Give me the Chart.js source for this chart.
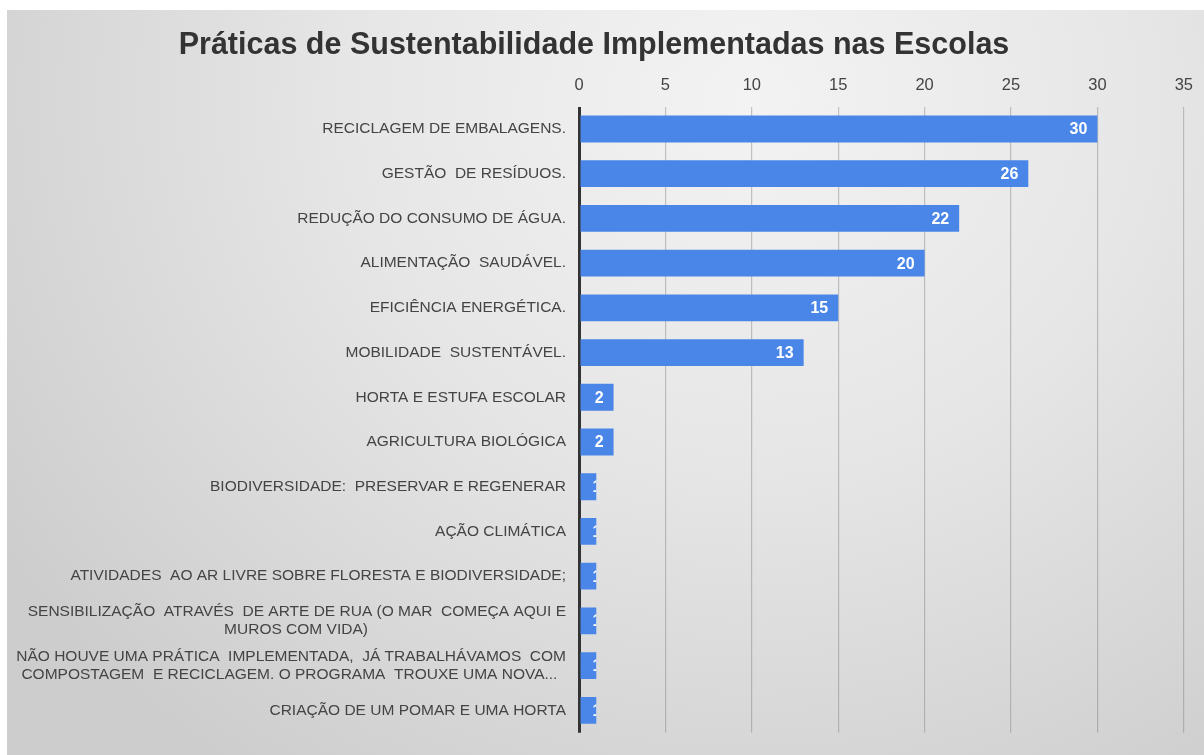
<!DOCTYPE html>
<html>
<head>
<meta charset="utf-8">
<script src="https://cdn.jsdelivr.net/npm/chart.js@4/dist/chart.umd.min.js"></script>
<style>
  html, body { margin: 0; padding: 0; background: #fff; }
  #wrap { position: relative; width: 1204px; height: 755px; }
  #panel {
    position: absolute; left: 7px; top: 10px; right: 0; bottom: 0;
    background: radial-gradient(ellipse 75% 110% at 62% 12%, #f3f3f3 0%, #e6e6e6 45%, #cdcdcd 100%);
  }
  canvas { position: absolute; left: 0; top: 0; }
</style>
</head>
<body>
<div id="wrap">
  <div id="panel"></div>
  <canvas id="chart" width="1204" height="755"></canvas>
</div>
<script>
// Chart data
const chartTitle = 'Práticas de Sustentabilidade Implementadas nas Escolas';
const practices = [
    ['RECICLAGEM DE EMBALAGENS.'],
    ['GESTÃO  DE RESÍDUOS.'],
    ['REDUÇÃO DO CONSUMO DE ÁGUA.'],
    ['ALIMENTAÇÃO  SAUDÁVEL.'],
    ['EFICIÊNCIA ENERGÉTICA.'],
    ['MOBILIDADE  SUSTENTÁVEL.'],
    ['HORTA E ESTUFA ESCOLAR'],
    ['AGRICULTURA BIOLÓGICA'],
    ['BIODIVERSIDADE:  PRESERVAR E REGENERAR'],
    ['AÇÃO CLIMÁTICA'],
    ['ATIVIDADES  AO AR LIVRE SOBRE FLORESTA E BIODIVERSIDADE;'],
    ['SENSIBILIZAÇÃO  ATRAVÉS  DE ARTE DE RUA (O MAR  COMEÇA AQUI E', 'MUROS COM VIDA)'],
    ['NÃO HOUVE UMA PRÁTICA  IMPLEMENTADA,  JÁ TRABALHÁVAMOS  COM', 'COMPOSTAGEM  E RECICLAGEM. O PROGRAMA  TROUXE UMA NOVA...'],
    ['CRIAÇÃO DE UM POMAR E UMA HORTA']
];
const schoolCounts = [30, 26, 22, 20, 15, 13, 2, 2, 1, 1, 1, 1, 1, 1];
const axisMax = 35;
const axisStep = 5;

const labelFont = "'Liberation Sans', Arial, sans-serif";
const labelSize = 15.5;
const barColor = '#4a86e8';

// Used to center the second line of two-line labels under the first
const measureCtx = document.createElement('canvas').getContext('2d');
measureCtx.font = labelSize + 'px ' + labelFont;

function centeredLines(lines) {
    if (lines.length < 2) return lines[0];
    const w0 = measureCtx.measureText(lines[0]).width;
    const out = [lines[0]];
    const spaceW = measureCtx.measureText(' ').width;
    for (let i = 1; i < lines.length; i++) {
        const w = measureCtx.measureText(lines[i]).width;
        const pad = Math.max(0, Math.round((w0 - w) / 2 / spaceW));
        out.push(lines[i] + ' '.repeat(pad));
    }
    return out;
}

// Value labels inside the bar end, clipped to the bar
const barValueLabels = {
    id: 'barValueLabels',
    afterDatasetsDraw(chart) {
        const ctx = chart.ctx;
        const meta = chart.getDatasetMeta(0);
        ctx.save();
        ctx.font = 'bold 16px ' + labelFont;
        ctx.fillStyle = '#ffffff';
        ctx.textAlign = 'right';
        ctx.textBaseline = 'middle';
        meta.data.forEach(function(bar, i) {
            const text = String(schoolCounts[i]);
            const tw = ctx.measureText(text).width;
            const left = bar.base;
            const right = bar.x;
            const half = bar.height / 2;
            ctx.save();
            ctx.beginPath();
            ctx.rect(left, bar.y - half, right - left, bar.height);
            ctx.clip();
            const tx = Math.max(right - 10, left + 12 + tw);
            ctx.fillText(text, tx, bar.y + 1);
            ctx.restore();
        });
        ctx.restore();
    }
};

new Chart(document.getElementById('chart'), {
    type: 'bar',
    data: {
        labels: practices.map(centeredLines),
        datasets: [{
            data: schoolCounts,
            backgroundColor: barColor,
            borderWidth: 0,
            barPercentage: 0.6,
            categoryPercentage: 1
        }]
    },
    options: {
        indexAxis: 'y',
        responsive: false,
        animation: false,
        layout: { padding: { left: 0, right: 16, top: 0, bottom: 15 } },
        plugins: {
            legend: { display: false },
            tooltip: { enabled: false },
            title: {
                display: true,
                text: chartTitle,
                color: '#333333',
                font: { family: "'Liberation Sans', Arial, sans-serif", size: 30.5, weight: 'bold' },
                padding: { top: 27, bottom: 8 }
            }
        },
        scales: {
            x: {
                position: 'top',
                min: 0,
                max: axisMax,
                ticks: {
                    stepSize: axisStep,
                    color: '#444444',
                    padding: 11,
                    font: { family: labelFont, size: 16.5 }
                },
                grid: {
                    drawTicks: false,
                    color: function(c) { return c.tick && c.tick.value === 0 ? '#333333' : 'rgba(120,120,120,0.4)'; },
                    lineWidth: function(c) { return c.tick && c.tick.value === 0 ? 3 : 1.2; }
                },
                border: { display: false },
                afterFit: function(scale) { scale.height = 35; }
            },
            y: {
                ticks: {
                    color: '#444444',
                    padding: 13,
                    autoSkip: false,
                    font: { family: labelFont, size: labelSize, lineHeight: 1.2 }
                },
                grid: { display: false, drawTicks: false },
                border: { display: false },
                afterFit: function(scale) { scale.width = 579; }
            }
        }
    },
    plugins: [barValueLabels]
});
</script>
</body>
</html>
